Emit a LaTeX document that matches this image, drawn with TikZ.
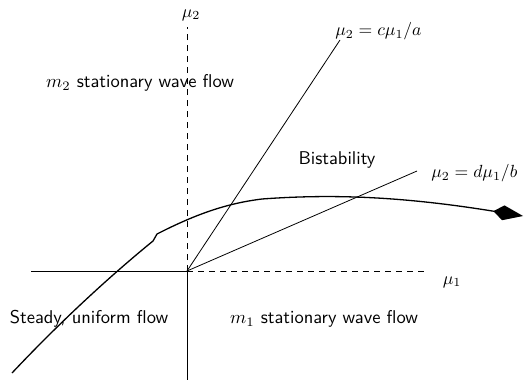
\documentclass[tikz,border=0pt]{standalone}
\usepackage{fontspec}
\usetikzlibrary{arrows.meta}
\begin{document}
\begin{tikzpicture}[x=1pt,y=-1pt,
  lbl/.style={font=\sffamily\fontsize{10}{12}\selectfont, scale=1.85, inner sep=0pt},
  mlbl/.style={font=\fontsize{10}{12}\selectfont, scale=1.76, inner sep=0pt},
  thinline/.style={line width=0.8pt},
  flow/.style={line width=1.3pt, -{Kite[length=30pt,width=15pt,inset=10pt]}}]
\useasboundingbox (0,0) rectangle (527,380);
\coordinate (O) at (187,271);
\coordinate (L) at (31,271);
\coordinate (R) at (427,271);
\coordinate (T) at (187,27);
\coordinate (B) at (187,380);
\coordinate (C) at (340,40);
\coordinate (D) at (417,171);
\draw[thinline] (L) -- (O);
\draw[thinline,dashed,dash pattern=on 6pt off 5pt] (O) -- (R);
\draw[thinline,dashed,dash pattern=on 6pt off 5pt] (O) -- (T);
\draw[thinline] (O) -- (B);
\draw[thinline] (O) -- (C);
\draw[thinline] (O) -- (D);
\node[mlbl] (mu2) at (191,15) {$\mu_2$};
\node[mlbl] (mu1) at (452,282) {$\mu_1$};
\node[mlbl,anchor=west] (lc) at (335,31) {$\mu_2 = c\mu_1/a$};
\node[mlbl,anchor=west] (ld) at (431,173) {$\mu_2 = d\mu_1/b$};
\node[lbl] (m2) at (140,83) {$m_2$ stationary wave flow};
\node[lbl] (bi) at (337,160) {Bistability};
\node[lbl] (st) at (89,319) {Steady, uniform flow};
\node[lbl] (m1) at (324,319) {$m_1$ stationary wave flow};
\coordinate (s0) at (12,373);
\coordinate (s1) at (153,241);
\coordinate (s2) at (157,234);
\coordinate (s3) at (262,199);
\coordinate (s4) at (523,216);
\draw[flow] (s0) .. controls (60,322) and (110,276) .. (s1) -- (s2) .. controls (200,212) and (230,203) .. (s3) .. controls (330,194) and (400,196) .. (s4);
\end{tikzpicture}
\end{document}
